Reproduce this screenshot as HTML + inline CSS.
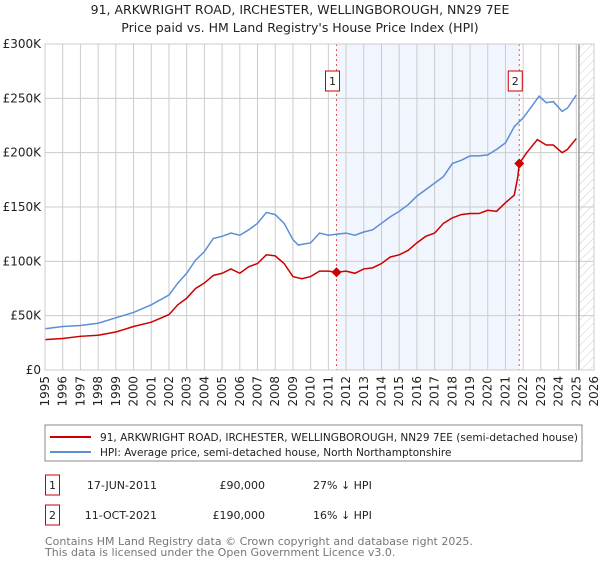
<!DOCTYPE html>
<html><head><meta charset="utf-8"><style>
body{margin:0;background:#fff;font-family:"DejaVu Sans","Liberation Sans",sans-serif;}
svg text{font-family:"DejaVu Sans","Liberation Sans",sans-serif;}
</style></head><body>
<svg id="chart" width="600" height="560" viewBox="0 0 600 560" xmlns="http://www.w3.org/2000/svg">
<defs><pattern id="hatch" width="6" height="6" patternUnits="userSpaceOnUse" patternTransform="rotate(45)"><line x1="0" y1="0" x2="0" y2="6" stroke="#ccc" stroke-width="1"/></pattern></defs>
<text x="300" y="14" text-anchor="middle" font-size="12.5" fill="#222">91, ARKWRIGHT ROAD, IRCHESTER, WELLINGBOROUGH, NN29 7EE</text>
<text x="300" y="32" text-anchor="middle" font-size="12.5" fill="#222">Price paid vs. HM Land Registry's House Price Index (HPI)</text>
<g id="plot"></g>
<rect x="45" y="425" width="537" height="36" fill="#fff" stroke="#888"/>
<line x1="50" y1="437" x2="91" y2="437" stroke="#cc0000" stroke-width="2"/>
<text x="100" y="441" font-size="10.5" fill="#222" textLength="478" lengthAdjust="spacingAndGlyphs">91, ARKWRIGHT ROAD, IRCHESTER, WELLINGBOROUGH, NN29 7EE (semi-detached house)</text>
<line x1="50" y1="452" x2="91" y2="452" stroke="#5b8fd4" stroke-width="2"/>
<text x="100" y="456" font-size="10.5" fill="#222">HPI: Average price, semi-detached house, North Northamptonshire</text>
<g>
<rect x="45.5" y="475" width="14" height="20" fill="#fff" stroke="#cc0000"/>
<text x="52.5" y="489" text-anchor="middle" font-size="11" fill="#222">1</text>
<text x="157" y="489" text-anchor="end" font-size="11" fill="#222">17-JUN-2011</text>
<text x="265" y="489" text-anchor="end" font-size="11" fill="#222">£90,000</text>
<text x="313" y="489" font-size="11" fill="#222">27% ↓ HPI</text>
</g>
<g>
<rect x="45.5" y="505" width="14" height="20" fill="#fff" stroke="#cc0000"/>
<text x="52.5" y="519" text-anchor="middle" font-size="11" fill="#222">2</text>
<text x="157" y="519" text-anchor="end" font-size="11" fill="#222">11-OCT-2021</text>
<text x="265" y="519" text-anchor="end" font-size="11" fill="#222">£190,000</text>
<text x="313" y="519" font-size="11" fill="#222">16% ↓ HPI</text>
</g>
<text x="45" y="545" font-size="11" fill="#777">Contains HM Land Registry data © Crown copyright and database right 2025.</text>
<text x="45" y="556" font-size="11" fill="#777">This data is licensed under the Open Government Licence v3.0.</text>
</svg>
<script>
const hpiYears=[1995,1996,1997,1998,1999,2000,2001,2002,2002.5,2003,2003.5,2004,2004.5,2005,2005.5,2006,2006.5,2007,2007.5,2008,2008.5,2009,2009.3,2010,2010.5,2011,2011.5,2012,2012.5,2013,2013.5,2014,2014.5,2015,2015.5,2016,2016.5,2017,2017.5,2018,2018.5,2019,2019.5,2020,2020.5,2021,2021.5,2022,2022.5,2022.9,2023.3,2023.7,2024.2,2024.5,2025];
const hpiValues=[38,40,41,43,48,53,60,69,80,89,101,109,121,123,126,124,129,135,145,143,135,120,115,117,126,124,125,126,124,127,129,135,141,146,152,160,166,172,178,190,193,197,197,198,203,209,224,232,243,252,246,247,238,241,253];
const priceYears=[1995,1996,1997,1998,1999,2000,2001,2002,2002.5,2003,2003.5,2004,2004.5,2005,2005.5,2006,2006.5,2007,2007.5,2008,2008.5,2009,2009.5,2010,2010.5,2011,2011.46,2012,2012.5,2013,2013.5,2014,2014.5,2015,2015.5,2016,2016.5,2017,2017.5,2018,2018.5,2019,2019.5,2020,2020.5,2021,2021.5,2021.7,2021.78,2022.2,2022.8,2023.3,2023.7,2024.2,2024.5,2025];
const priceValues=[28,29,31,32,35,40,44,51,60,66,75,80,87,89,93,89,95,98,106,105,98,86,84,86,91,91,90,91,89,93,94,98,104,106,110,117,123,126,135,140,143,144,144,147,146,154,161,178,190,200,212,207,207,200,203,213];
const saleYears=[2011.46,2021.78];
const saleValues=[90,190];
const saleLabels=["1","2"];
const yTicks=[0,50,100,150,200,250,300];
const yTickLabels=["£0","£50K","£100K","£150K","£200K","£250K","£300K"];
const xTicks=[1995,1996,1997,1998,1999,2000,2001,2002,2003,2004,2005,2006,2007,2008,2009,2010,2011,2012,2013,2014,2015,2016,2017,2018,2019,2020,2021,2022,2023,2024,2025,2026];
const dataEnd=2025.15;

const X0=45,X1=594,Y0=370,Y1=44;
const xs=y=>X0+(y-1995)/(2026-1995)*(X1-X0);
const ys=v=>Y0-v/300*(Y0-Y1);
const NS="http://www.w3.org/2000/svg";
const g=document.getElementById('plot');
function mk(t,a){const e=document.createElementNS(NS,t);for(const k in a)e.setAttribute(k,a[k]);g.appendChild(e);return e;}

const shade=mk('rect',{x:xs(saleYears[0]),y:Y1,width:xs(saleYears[1])-xs(saleYears[0]),height:Y0-Y1,fill:'#eef3fc',opacity:0.8});


const hatch=mk('rect',{x:xs(dataEnd),y:Y1,width:X1-xs(dataEnd),height:Y0-Y1,fill:'url(#hatch)'});



yTicks.forEach((v,i)=>{
  const l=mk('line',{x1:X0,x2:X1,y1:ys(v),y2:ys(v),stroke:'#ccc','stroke-width':1});
  
  
  const t=mk('text',{x:X0-4,y:ys(v)+4,'text-anchor':'end','font-size':12,fill:'#222'});
  t.textContent=yTickLabels[i];
  
  
});
xTicks.forEach(yr=>{
  const l=mk('line',{x1:xs(yr),x2:xs(yr),y1:Y1,y2:Y0,stroke:'#ccc','stroke-width':1});
  
  
  const t=mk('text',{x:0,y:0,'text-anchor':'end','font-size':12,fill:'#222',transform:`translate(${xs(yr)+4},${Y0+6}) rotate(-90)`});
  t.textContent=yr;
  
  
});
const endLine=mk('line',{x1:xs(dataEnd),x2:xs(dataEnd),y1:Y1,y2:Y0,stroke:'#999','stroke-width':1.5});



saleYears.forEach((yr,i)=>{
  const l=mk('line',{x1:xs(yr),x2:xs(yr),y1:Y1,y2:Y0,stroke:'#e55','stroke-width':1,'stroke-dasharray':'2,3'});
  
  
  const bx=xs(yr)-11;
  const r=mk('rect',{x:bx,y:71,width:14,height:20,fill:'#fff',stroke:'#cc0000'});
  
  
  const t=mk('text',{x:bx+7,y:85,'text-anchor':'middle','font-size':11,fill:'#222'});
  t.textContent=saleLabels[i];
  
  
});

const hp=mk('polyline',{points:hpiYears.map((y,i)=>xs(y)+','+ys(hpiValues[i])).join(' '),fill:'none',stroke:'#5b8fd4','stroke-width':1.5});


const pp=mk('polyline',{points:priceYears.map((y,i)=>xs(y)+','+ys(priceValues[i])).join(' '),fill:'none',stroke:'#cc0000','stroke-width':1.5});


saleYears.forEach((yr,i)=>{
  const cx=xs(yr),cy=ys(saleValues[i]);
  const d=mk('polygon',{points:`${cx},${cy-5} ${cx+5},${cy} ${cx},${cy+5} ${cx-5},${cy}`,fill:'#cc0000'});
  
  
});
const frame=mk('rect',{x:X0,y:Y1,width:X1-X0,height:Y0-Y1,fill:'none',stroke:'#ccc'});


</script>
</body></html>
